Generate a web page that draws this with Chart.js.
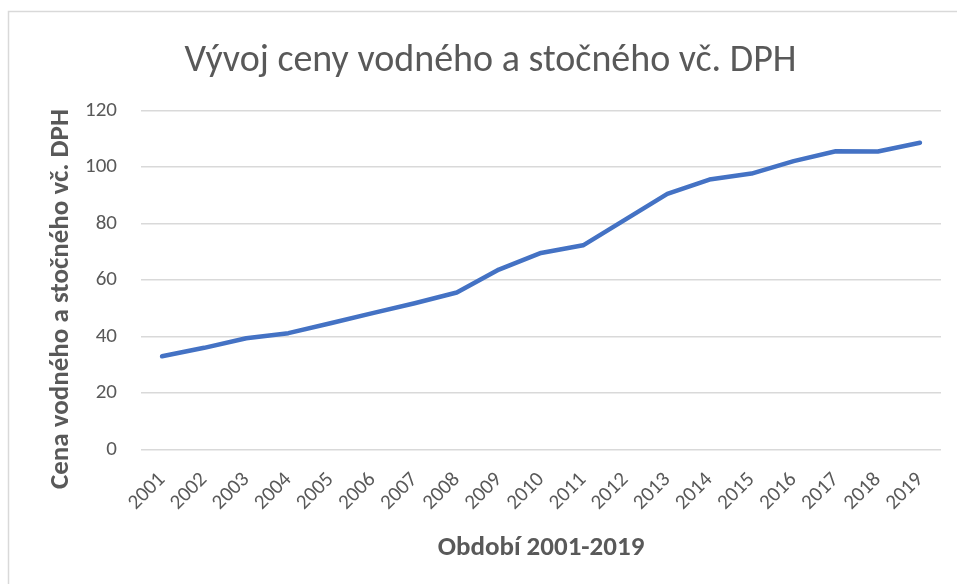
<!DOCTYPE html>
<html>
<head>
<meta charset="utf-8">
<script src="https://cdn.jsdelivr.net/npm/chart.js@4"></script>
<style>
html,body{margin:0;padding:0;background:#fff;}
#wrap{width:957px;height:584px;position:relative;}
</style>
</head>
<body>
<div id="wrap"><canvas id="c" width="957" height="584"></canvas></div>
<script>
const years = ['2001','2002','2003','2004','2005','2006','2007','2008','2009','2010','2011','2012','2013','2014','2015','2016','2017','2018','2019'];
const prices = [33.0, 36.0, 39.4, 41.2, 44.7, 48.3, 51.8, 55.6, 63.7, 69.6, 72.3, 81.4, 90.5, 95.6, 97.7, 102.1, 105.6, 105.5, 108.6];
const yTicks = [0, 20, 40, 60, 80, 100, 120];
const titleText = 'Vývoj ceny vodného a stočného vč. DPH';
const yTitle = 'Cena vodného a stočného vč. DPH';
const xTitle = 'Období 2001-2019';

const FONT = "Carlito, 'Open Sans', sans-serif";
const GRAY = '#595959';

const framePlugin = {
  id: 'frame',
  beforeDraw(chart) {
    const ctx = chart.ctx;
    ctx.save();
    ctx.fillStyle = '#fff';
    ctx.fillRect(0, 0, chart.width, chart.height);
    ctx.strokeStyle = '#d9d9d9';
    ctx.lineWidth = 1.5;
    ctx.strokeRect(8.5, 11.5, chart.width + 20, chart.height + 20);
    ctx.restore();
  }
};

// y-axis title, placed slightly below the plot centre as in the reference
const yTitlePlugin = {
  id: 'yTitle',
  afterDraw(chart) {
    const ctx = chart.ctx;
    const area = chart.chartArea;
    ctx.save();
    ctx.translate(61, (area.top + area.bottom) / 2 + 19);
    ctx.rotate(-Math.PI / 2);
    ctx.fillStyle = GRAY;
    ctx.font = "bold 27px " + FONT;
    ctx.textAlign = 'center';
    ctx.textBaseline = 'middle';
    ctx.fillText(yTitle, 0, 0);
    ctx.restore();
  }
};

new Chart(document.getElementById('c'), {
  type: 'line',
  data: {
    labels: years,
    datasets: [{
      data: prices,
      borderColor: '#4472c4',
      backgroundColor: '#4472c4',
      borderWidth: 4.5,
      pointRadius: 0,
      tension: 0,
      borderJoinStyle: 'round',
      borderCapStyle: 'round'
    }]
  },
  options: {
    responsive: false,
    animation: false,
    layout: { padding: { left: 40, right: 16, top: 0, bottom: 20 } },
    plugins: {
      legend: { display: false },
      tooltip: { enabled: false },
      title: {
        display: true,
        text: titleText,
        color: GRAY,
        font: { family: FONT, size: 38, weight: 'normal' },
        padding: { top: 39, bottom: 26 }
      }
    },
    scales: {
      x: {
        offset: true,
        grid: { display: false, drawTicks: false },
        border: { display: false },
        ticks: {
          color: GRAY,
          font: { family: FONT, size: 21 },
          minRotation: 45,
          maxRotation: 45,
          autoSkip: false,
          padding: 18
        },
        title: {
          display: true,
          text: xTitle,
          color: GRAY,
          font: { family: FONT, size: 27, weight: 'bold' },
          padding: { top: 0, bottom: 0 }
        },
        afterFit(scale) {
          scale.height = 114.5;
          scale.paddingLeft = 0;
          scale.paddingRight = 0;
        }
      },
      y: {
        min: 0,
        max: 120,
        grid: { color: '#d9d9d9', lineWidth: 1.4, drawTicks: false },
        border: { display: false },
        afterBuildTicks(scale) {
          scale.ticks = yTicks.map(v => ({ value: v }));
        },
        ticks: {
          color: GRAY,
          font: { family: FONT, size: 21 },
          padding: 24
        },
        afterFit(scale) {
          scale.width = 101;
        }
      }
    }
  },
  plugins: [framePlugin, yTitlePlugin]
});
</script>
</body>
</html>
